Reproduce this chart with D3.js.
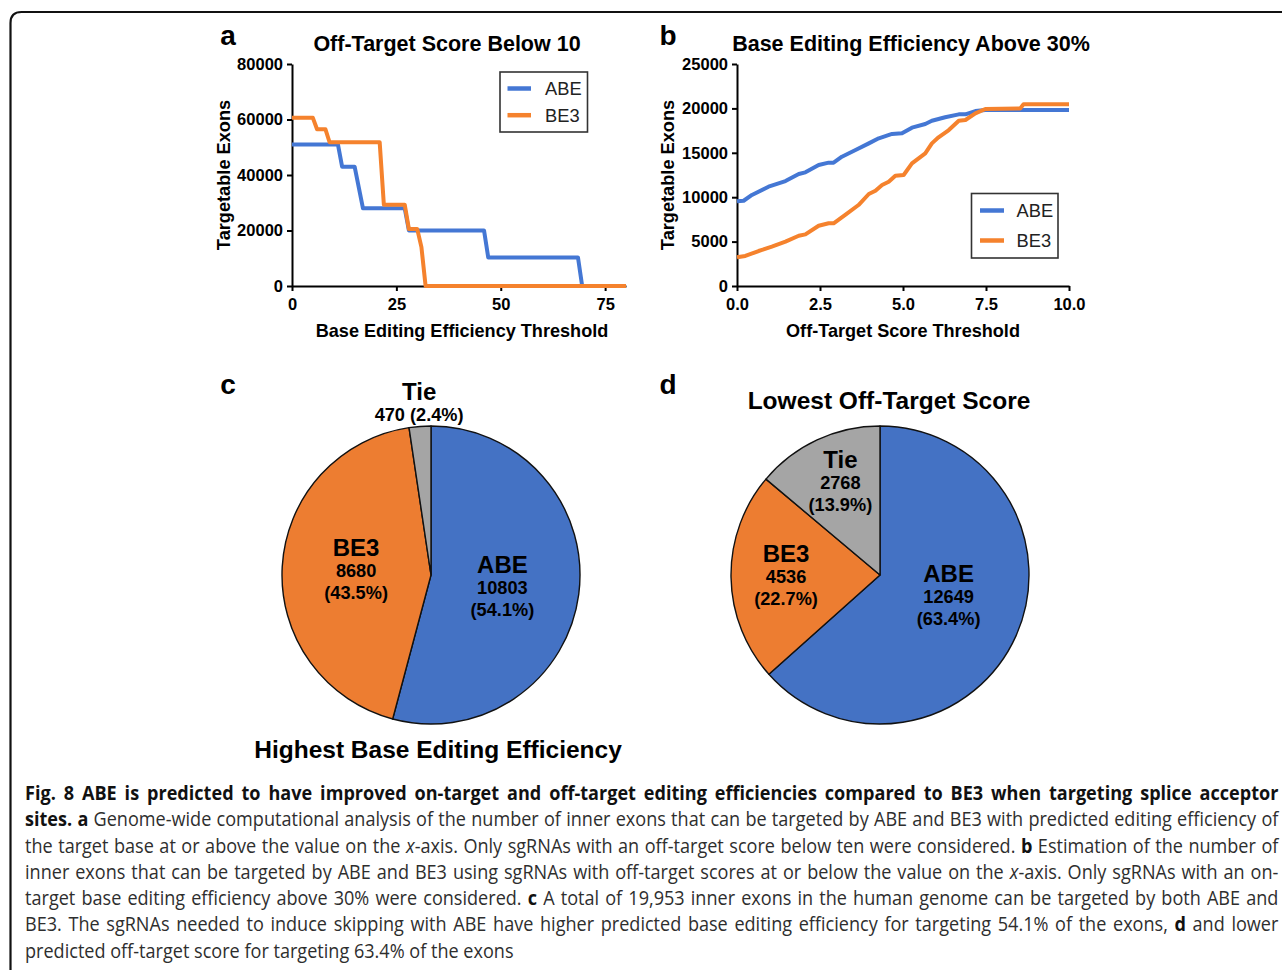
<!DOCTYPE html>
<html><head><meta charset="utf-8">
<script src="https://cdn.jsdelivr.net/npm/d3@7"></script>
<style>body{margin:0;background:#fff}svg{display:block}</style>
</head><body>
<svg id="fig" width="1282" height="970"></svg>
<script>
// ---------------- DATA ----------------
const seriesNames = ["ABE", "BE3"];
// Panel a: Off-Target Score Below 10 (x = base editing efficiency threshold)
const aTicksX = [0, 25, 50, 75];
const aTicksY = [0, 20000, 40000, 60000, 80000];
const aABE = [[0,51000],[11,51000],[12,43000],[15,43000],[17,28000],[27,28000],[28,20000],[46,20000],[47,10300],[68.5,10300],[69.5,0],[80,0]];
const aBE3 = [[0,60600],[5,60600],[6,56500],[8,56500],[9,51800],[21,51800],[22,29300],[27,29300],[28,20500],[30,20500],[31,14000],[32,0],[80,0]];
// Panel b: Base Editing Efficiency Above 30% (x = off-target score threshold)
const bTicksX = [0, 2.5, 5, 7.5, 10];
const bTicksY = [0, 5000, 10000, 15000, 20000, 25000];
const bABE = [[0,9550],[0.2,9600],[0.45,10250],[0.95,11180],[1.46,11820],[1.86,12610],[2.06,12800],[2.46,13620],[2.76,13890],[2.91,13890],[3.16,14560],[3.57,15310],[3.97,16060],[4.27,16630],[4.67,17120],[4.97,17190],[5.27,17830],[5.67,18240],[5.87,18610],[6.27,19000],[6.68,19330],[6.88,19330],[7.18,19700],[7.48,19820],[10,19820]];
const bBE3 = [[0,3230],[0.25,3380],[0.65,3940],[1.05,4430],[1.46,4990],[1.86,5660],[2.06,5810],[2.46,6790],[2.76,7060],[2.91,7060],[3.26,8000],[3.66,9120],[3.97,10360],[4.17,10730],[4.37,11370],[4.57,11740],[4.77,12420],[5.02,12500],[5.27,13810],[5.47,14380],[5.67,14940],[5.87,16060],[6.07,16740],[6.38,17560],[6.68,18610],[6.88,18690],[7.18,19440],[7.48,19930],[8.53,20000],[8.63,20460],[10,20460]];
// Pies
const pieCategories = ["ABE", "BE3", "Tie"];
const cValues = [10803, 8680, 470];
const cPercents = ["54.1%", "43.5%", "2.4%"];
const dValues = [12649, 4536, 2768];
const dPercents = ["63.4%", "22.7%", "13.9%"];

// ---------------- STYLE ----------------
const FONT = "'Liberation Sans', Arial, Helvetica, sans-serif";
const lineColors = {ABE: "#4477d4", BE3: "#f5822d"};
const pieColors = {ABE: "#4472c4", BE3: "#ed7d31", Tie: "#a5a5a5"};

const svg = d3.select("#fig");

// frame
svg.append("path").attr("d", "M10.5,990 V23 Q10.5,12 21.5,12 H1300")
  .attr("fill", "none").attr("stroke", "#111").attr("stroke-width", 2.2);

function txt(g, s, x, y, size, weight, anchor, extra) {
  const t = g.append("text").attr("x", x).attr("y", y).text(s)
    .attr("font-family", FONT).attr("font-size", size)
    .attr("font-weight", weight || "bold").attr("text-anchor", anchor || "middle").attr("fill", "#000");
  if (extra) extra(t);
  return t;
}

function linePanel(o) {
  const g = svg.append("g");
  const x = d3.scaleLinear().domain(o.xDomain).range(o.xRange);
  const y = d3.scaleLinear().domain(o.yDomain).range(o.yRange);
  const xa = d3.axisBottom(x).tickValues(o.xTicks).tickFormat(o.xFmt).tickSize(5).tickSizeOuter(0).tickPadding(7);
  const ya = d3.axisLeft(y).tickValues(o.yTicks).tickFormat(d3.format("d")).tickSize(5).tickSizeOuter(0).tickPadding(4);
  const gx = g.append("g").attr("transform", `translate(0,${o.yRange[0]})`).call(xa);
  const gy = g.append("g").attr("transform", `translate(${o.xRange[0]},0)`).call(ya);
  [gx, gy].forEach(a => {
    a.select(".domain").attr("stroke", "#000").attr("stroke-width", 2);
    a.selectAll(".tick line").attr("stroke", "#000").attr("stroke-width", 2);
    a.selectAll(".tick text").attr("font-family", FONT).attr("font-size", 16.5)
      .attr("font-weight", "bold").attr("fill", "#000");
  });
  const line = d3.line().x(d => x(d[0])).y(d => y(d[1]));
  o.series.forEach((s, i) => {
    g.append("path").datum(s).attr("d", line).attr("fill", "none")
      .attr("stroke", lineColors[seriesNames[i]]).attr("stroke-width", 4)
      .attr("stroke-linejoin", "round");
  });
  // titles
  txt(g, o.letter, o.letterX, 45, 28);
  txt(g, o.title, o.titleX, 50.5, 21.5);
  txt(g, o.xLabel, o.xLabelX, 337, 18.1);
  txt(g, "Targetable Exons", 0, 0, 18.2, "bold", "middle",
    t => t.attr("x", null).attr("y", null).attr("transform", `translate(${o.yLabelX},175) rotate(-90)`));
  // legend
  const L = o.legend;
  g.append("rect").attr("x", L.x).attr("y", L.y).attr("width", L.w).attr("height", L.h)
    .attr("fill", "#fff").attr("stroke", "#333").attr("stroke-width", 1.6);
  seriesNames.forEach((n, i) => {
    const yy = L.y + L.first + i * L.gap;
    g.append("line").attr("x1", L.x + L.sw0).attr("x2", L.x + L.sw1).attr("y1", yy).attr("y2", yy)
      .attr("stroke", lineColors[n]).attr("stroke-width", 4.5);
    txt(g, n, L.x + L.tx, yy + 6.3, 18.3, "normal", "start").attr("fill", "#222");
  });
}

linePanel({
  xDomain: [0, 80], xRange: [292, 626], yDomain: [0, 80000], yRange: [286, 64],
  xTicks: aTicksX, yTicks: aTicksY, xFmt: d3.format("d"), series: [aABE, aBE3],
  letter: "a", letterX: 228, title: "Off-Target Score Below 10", titleX: 447,
  xLabel: "Base Editing Efficiency Threshold", xLabelX: 462, yLabelX: 230,
  legend: {x: 500, y: 72, w: 87.5, h: 60, first: 16.5, gap: 26.7, sw0: 7.5, sw1: 31, tx: 45}
});
linePanel({
  xDomain: [0, 10], xRange: [737, 1069], yDomain: [0, 25000], yRange: [286, 64],
  xTicks: bTicksX, yTicks: bTicksY, xFmt: d3.format(".1f"), series: [bABE, bBE3],
  letter: "b", letterX: 668, title: "Base Editing Efficiency Above 30%", titleX: 911,
  xLabel: "Off-Target Score Threshold", xLabelX: 903, yLabelX: 674,
  legend: {x: 971.5, y: 193.5, w: 86.5, h: 64.5, first: 17, gap: 30, sw0: 8.5, sw1: 32.5, tx: 45}
});

// ---------------- PIES ----------------
function piePanel(o) {
  const g = svg.append("g").attr("transform", `translate(${o.cx},${o.cy})`);
  const arcs = d3.pie().sort(null).value(d => d)(o.values);
  const arc = d3.arc().innerRadius(0).outerRadius(o.r);
  g.selectAll("path").data(arcs).join("path").attr("d", arc)
    .attr("fill", (d, i) => pieColors[pieCategories[i]])
    .attr("stroke", "#111").attr("stroke-width", 1.4).attr("stroke-linejoin", "round");
  arcs.forEach((a, i) => {
    const lp = o.labels[i];
    const c = d3.arc().innerRadius(lp.r).outerRadius(lp.r).centroid(a);
    const lx = c[0] + (lp.dx || 0), ly = c[1] + (lp.dy || 0);
    txt(g, pieCategories[i], lx, ly - 14.5, 24);
    if (lp.inline) {
      txt(g, `${o.values[i]} (${o.percents[i]})`, lx, ly + 6.5, 18.2);
    } else {
      txt(g, String(o.values[i]), lx, ly + 6.5, 18.2);
      txt(g, `(${o.percents[i]})`, lx, ly + 28.5, 18.2);
    }
  });
  txt(svg, o.letter, o.letterX, 394, 28);
  txt(svg, o.title, o.titleX, o.titleY, 24.5);
}

piePanel({
  cx: 431, cy: 575, r: 149, values: cValues, percents: cPercents,
  labels: [{r: 72, dy: 3}, {r: 75}, {r: 161, inline: true}],
  letter: "c", letterX: 228, title: "Highest Base Editing Efficiency", titleX: 438, titleY: 757.5
});
piePanel({
  cx: 880, cy: 575, r: 149, values: dValues, percents: dPercents,
  labels: [{r: 73, dy: -8, dx: 2}, {r: 94}, {r: 101, dx: 3, dy: -1}],
  letter: "d", letterX: 668, title: "Lowest Off-Target Score", titleX: 889, titleY: 408.5
});

// ---------------- CAPTION ----------------
const captionLines = [
  [{t: "Fig. 8 ABE is predicted to have improved on-target and off-target editing efficiencies compared to BE3 when targeting splice acceptor", b: 1}],
  [{t: "sites. a", b: 1}, {t: " Genome-wide computational analysis of the number of inner exons that can be targeted by ABE and BE3 with predicted editing efficiency of"}],
  [{t: "the target base at or above the value on the "}, {t: "x", i: 1}, {t: "-axis. Only sgRNAs with an off-target score below ten were considered. "}, {t: "b", b: 1}, {t: " Estimation of the number of"}],
  [{t: "inner exons that can be targeted by ABE and BE3 using sgRNAs with off-target scores at or below the value on the "}, {t: "x", i: 1}, {t: "-axis. Only sgRNAs with an on-"}],
  [{t: "target base editing efficiency above 30% were considered. "}, {t: "c", b: 1}, {t: " A total of 19,953 inner exons in the human genome can be targeted by both ABE and"}],
  [{t: "BE3. The sgRNAs needed to induce skipping with ABE have higher predicted base editing efficiency for targeting 54.1% of the exons, "}, {t: "d", b: 1}, {t: " and lower"}],
  [{t: "predicted off-target score for targeting 63.4% of the exons"}]
];
const capX = 25, capW = 1254, capY0 = 800, capLH = 26.3, capSize = 19.5;
const cap = svg.append("g");
const texts = captionLines.map((segs, k) => {
  const t = cap.append("text").attr("x", 0).attr("y", capY0 + k * capLH)
    .attr("font-family", "'Open Sans', 'Noto Sans', sans-serif").attr("font-size", capSize)
    .attr("fill", "#2e2e2e").style("white-space", "pre");
  segs.forEach(s => {
    const ts = t.append("tspan").text(s.t);
    if (s.b) ts.attr("font-weight", "bold").attr("fill", "#111");
    if (s.i) ts.attr("font-style", "italic");
  });
  return t;
});
const nat = texts.map(t => t.node().getComputedTextLength());
// horizontal condensing for the regular lines, separately for the all-bold first line
let fReg = 1;
nat.slice(1, -1).forEach(w => { fReg = Math.min(fReg, capW / w); });
fReg = Math.min(1, fReg * 0.99);
const fLine = nat.map((w, k) => k === 0 ? Math.min(fReg, capW / w * 0.99) : fReg);
texts.forEach((t, k) => {
  const f = fLine[k];
  t.attr("transform", `translate(${capX},0) scale(${f},1)`);
  if (k === texts.length - 1) return;
  const full = captionLines[k].map(s => s.t).join("");
  const spaces = (full.match(/ /g) || []).length;
  t.attr("word-spacing", (capW / f - nat[k]) / spaces);
});
</script>
</body></html>
